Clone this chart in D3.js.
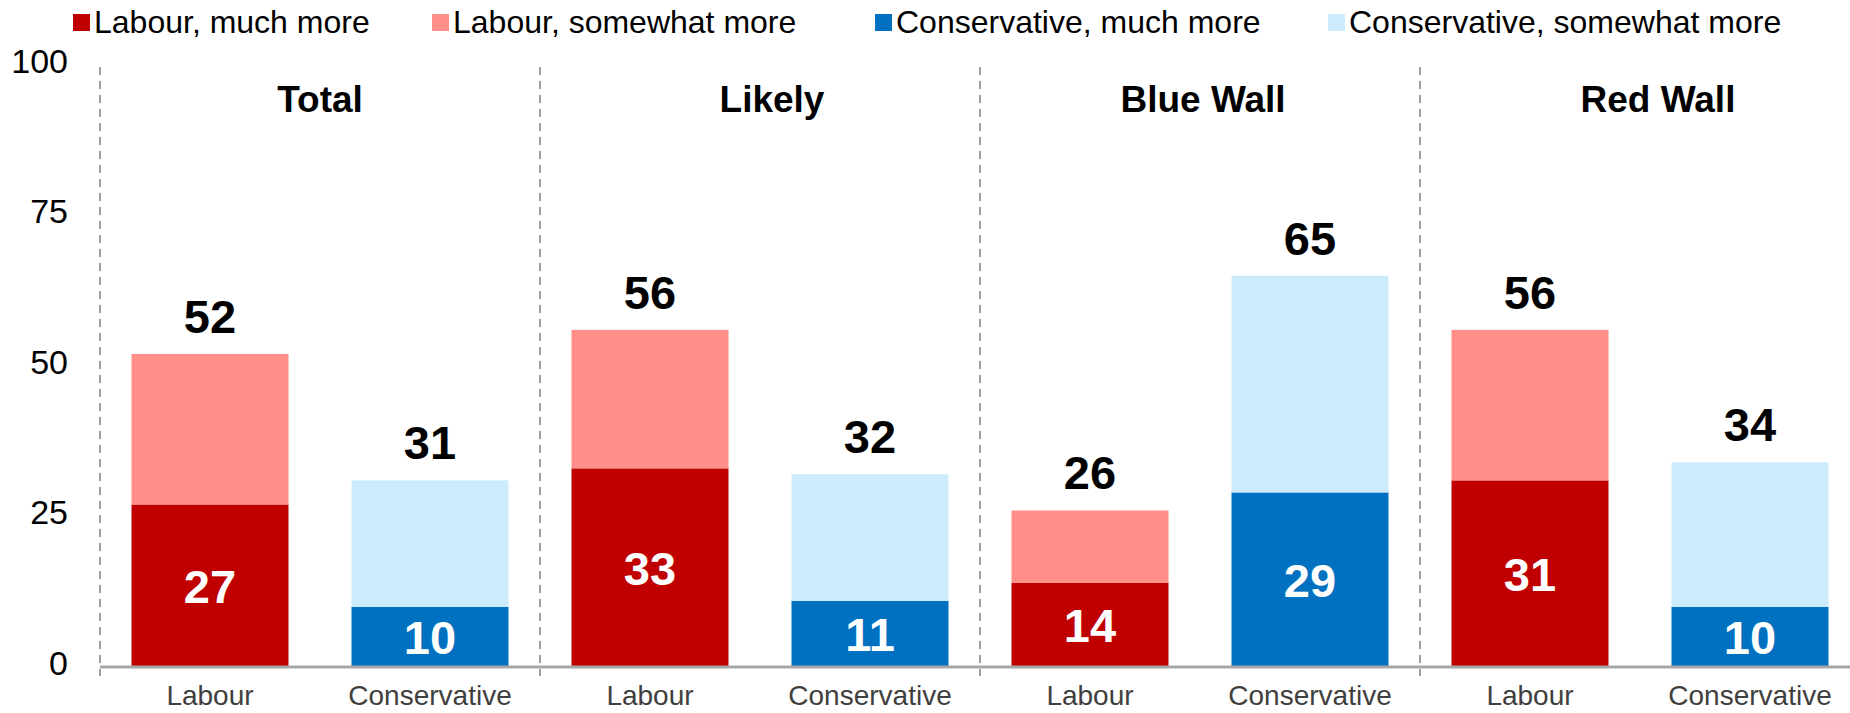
<!DOCTYPE html>
<html>
<head>
<meta charset="utf-8">
<script src="https://cdn.jsdelivr.net/npm/d3@7"></script>
<style>
  html, body { margin: 0; padding: 0; background: #fff; }
  svg { display: block; font-family: "Liberation Sans", Arial, sans-serif; }
</style>
</head>
<body>
<svg id="chart" width="1850" height="713"></svg>
<script>
// ---- data ----
const groups = ["Total", "Likely", "Blue Wall", "Red Wall"];
const parties = ["Labour", "Conservative"];
const labourMuch = [27, 33, 14, 31];
const labourSomewhat = [25, 23, 12, 25];
const conMuch = [10, 11, 29, 10];
const conSomewhat = [21, 21, 36, 24];
const yTicks = [0, 25, 50, 75, 100];
const seriesNames = ["Labour, much more", "Labour, somewhat more", "Conservative, much more", "Conservative, somewhat more"];
const seriesColors = ["#C00000", "#FF8F88", "#0070C0", "#CCEBFC"];

// ---- build table ----
const rows = [];
groups.forEach((g, i) => {
  rows.push({ group: g, party: "Labour", much: labourMuch[i], somewhat: labourSomewhat[i], cMuch: seriesColors[0], cSome: seriesColors[1] });
  rows.push({ group: g, party: "Conservative", much: conMuch[i], somewhat: conSomewhat[i], cMuch: seriesColors[2], cSome: seriesColors[3] });
});

const svg = d3.select("#chart");

const x0 = d3.scaleBand().domain(groups).range([100, 1860]).paddingInner(0).paddingOuter(0);
const x1 = d3.scaleBand().domain(parties).range([0, x0.bandwidth()]).paddingInner(0.2864).paddingOuter(0.1432);
const y = d3.scaleLinear().domain([0, 100]).range([667, 65]);

// group separators (dashed)
svg.append("g").selectAll("line")
  .data(groups)
  .join("line")
  .attr("x1", d => x0(d)).attr("x2", d => x0(d))
  .attr("y1", y(100) + 2).attr("y2", y(0) + 9)
  .attr("stroke", "#A0A0A0").attr("stroke-width", 2)
  .attr("stroke-dasharray", "8,6");

// bars
const gBars = svg.append("g");
rows.forEach(r => {
  const bx = x0(r.group) + x1(r.party);
  gBars.append("rect")
    .attr("x", bx).attr("width", x1.bandwidth())
    .attr("y", y(r.much)).attr("height", y(0) - y(r.much))
    .attr("fill", r.cMuch);
  gBars.append("rect")
    .attr("x", bx).attr("width", x1.bandwidth())
    .attr("y", y(r.much + r.somewhat)).attr("height", y(r.much) - y(r.much + r.somewhat))
    .attr("fill", r.cSome);
  // inner label
  gBars.append("text")
    .attr("x", bx + x1.bandwidth() / 2)
    .attr("y", y(r.much / 2))
    .attr("dy", "0.36em")
    .attr("text-anchor", "middle")
    .attr("font-size", 47).attr("font-weight", "bold")
    .attr("fill", "#fff")
    .text(r.much);
  // total label
  gBars.append("text")
    .attr("x", bx + x1.bandwidth() / 2)
    .attr("y", y(r.much + r.somewhat) - 21)
    .attr("text-anchor", "middle")
    .attr("font-size", 47).attr("font-weight", "bold")
    .attr("fill", "#000")
    .text(r.much + r.somewhat);
});

// x axis baseline
svg.append("line")
  .attr("x1", 100).attr("x2", 1860)
  .attr("y1", y(0)).attr("y2", y(0))
  .attr("stroke", "#A6A6A6").attr("stroke-width", 3);

// x axes per group
groups.forEach(g => {
  const ax = svg.append("g")
    .attr("transform", `translate(${x0(g)},${y(0)})`)
    .call(d3.axisBottom(x1).tickSize(0).tickPadding(18));
  ax.select(".domain").remove();
  ax.selectAll("text")
    .attr("font-size", 28)
    .attr("font-family", "Liberation Sans, Arial, sans-serif")
    .attr("fill", "#404040");
});

// y axis
const yAx = svg.append("g")
  .attr("transform", "translate(100,0)")
  .call(d3.axisLeft(y).tickValues(yTicks).tickSize(0).tickPadding(32));
yAx.select(".domain").remove();
yAx.selectAll("text")
  .attr("font-size", 34)
  .attr("font-family", "Liberation Sans, Arial, sans-serif")
  .attr("fill", "#000")
  .attr("dy", "0.22em");

// group titles (slight manual offsets as in the original)
const titleShift = [0, 12, 3, 18];
svg.append("g").selectAll("text")
  .data(groups)
  .join("text")
  .attr("x", (d, i) => x0(d) + x0.bandwidth() / 2 + titleShift[i])
  .attr("y", 112)
  .attr("text-anchor", "middle")
  .attr("font-size", 37).attr("font-weight", "bold")
  .attr("fill", "#000")
  .text(d => d);

// legend
const legX = [73, 432, 875, 1328];
const leg = svg.append("g");
seriesNames.forEach((n, i) => {
  leg.append("rect")
    .attr("x", legX[i]).attr("y", 14)
    .attr("width", 17).attr("height", 17)
    .attr("fill", seriesColors[i]);
  leg.append("text")
    .attr("x", legX[i] + 21).attr("y", 33)
    .attr("font-size", 32)
    .attr("fill", "#000")
    .text(n);
});
</script>
</body>
</html>
